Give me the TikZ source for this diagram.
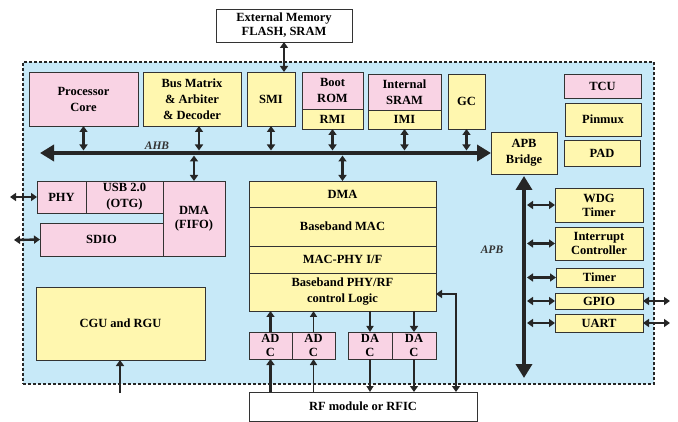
\documentclass[tikz,border=0pt]{standalone}
\usepackage{fontspec}
\setmainfont{Liberation Serif}
\usepackage{xcolor}
\usetikzlibrary{positioning, arrows.meta}

\definecolor{chipblue}{RGB}{199,233,248}
\definecolor{blkpink}{RGB}{249,211,228}
\definecolor{blkyellow}{RGB}{255,247,175}

\begin{document}
\begin{tikzpicture}[
      x=1pt, y=-1pt,
      box/.style={draw=black!80, line width=0.8pt, align=center, inner sep=0pt, outer sep=0pt,
        anchor=north west, font=\fontsize{12.5}{16}\selectfont\bfseries},
      tight/.style={font=\fontsize{12.5}{14}\selectfont\bfseries},
      pbox/.style={box, fill=blkpink},
      ybox/.style={box, fill=blkyellow},
      wbox/.style={box, fill=white},
      sz/.style 2 args={minimum width=#1pt, minimum height=#2pt},
      biarr/.style={{Triangle[length=6pt,width=8pt]}-{Triangle[length=6pt,width=8pt]}, line width=2.4pt, black!85},
      arr/.style={-{Triangle[length=6pt,width=8pt]}, line width=2.4pt, black!85},
      thinarr/.style={-{Triangle[length=6pt,width=7pt]}, line width=1.5pt, black!85},
      bus/.style={{Triangle[length=14pt,width=16pt]}-{Triangle[length=14pt,width=16pt]}, line width=4.5pt, black!85},
      buslbl/.style={font=\fontsize{11.5}{13}\selectfont\bfseries\itshape, black!80}
    ]
    \useasboundingbox (0,0) rectangle (678,422);

    % chip outline and external memory
    \node[wbox, tight, sz={136}{33}] (extmem) at (216,9) {External Memory\\FLASH, SRAM};
    \node[box, fill=chipblue, draw=black!85, line width=1.3pt, dash pattern=on 3pt off 2pt, sz={631}{322}] (chip) at (23,62) {};

    % top row on the AHB
    \node[pbox, sz={109}{54}] (core) at (29,72) {Processor\\Core};
    \node[ybox, sz={98}{54}] (busmx) at (143,72) {Bus Matrix\\\& Arbiter\\\& Decoder};
    \node[ybox, sz={48}{54}] (smi) at (247,72) {SMI};
    \node[pbox, sz={61}{37}] (boot) at (302,72) {Boot\\ROM};
    \node[ybox, sz={61}{20}, below=0pt of boot] (rmi) {RMI};
    \node[pbox, sz={73}{36}] (isram) at (368,74) {Internal\\SRAM};
    \node[ybox, sz={73}{19}, below=0pt of isram] (imi) {IMI};
    \node[ybox, sz={37}{55}] (gc) at (448,74) {GC};
    \node[pbox, sz={77}{24}] (tcu) at (564,74) {TCU};
    \node[ybox, sz={76}{33}] (pinmux) at (565,103) {Pinmux};
    \node[ybox, sz={76}{26}] (pad) at (564,140) {PAD};
    \node[ybox, sz={66}{42}] (apbb) at (491,132) {APB\\Bridge};

    % USB / SDIO side
    \node[pbox, sz={49}{32}] (phy) at (37,181) {PHY};
    \node[pbox, sz={77}{32}, right=0pt of phy] (usb) {USB 2.0\\(OTG)};
    \node[pbox, tight, sz={62}{75}] (fifo) at (163,181) {DMA\\(FIFO)};
    \node[pbox, sz={123}{33}] (sdio) at (40,223) {SDIO};
    \node[ybox, sz={169}{73}] (cgu) at (36,287) {CGU and RGU};

    % baseband stack
    \node[ybox, sz={187}{26}] (bbdma) at (249,181) {DMA};
    \node[ybox, sz={187}{39}, below=0pt of bbdma] (bbmac) {Baseband MAC};
    \node[ybox, sz={187}{27}, below=0pt of bbmac] (macphy) {MAC-PHY I/F};
    \node[ybox, sz={187}{38}, below=0pt of macphy] (bbphy) {Baseband PHY/RF\\control Logic};
    \node[pbox, tight, sz={43}{27}] (adc1) at (249,332) {AD\\C};
    \node[pbox, tight, sz={43}{27}, right=0pt of adc1] (adc2) {AD\\C};
    \node[pbox, tight, sz={44}{27}] (dac1) at (348,332) {DA\\C};
    \node[pbox, tight, sz={44}{27}, right=0pt of dac1] (dac2) {DA\\C};
    \node[wbox, sz={228}{29}] (rf) at (249,392) {RF module or RFIC};

    % APB peripherals
    \node[ybox, tight, sz={88}{34}] (wdg) at (555,188) {WDG\\Timer};
    \node[ybox, tight, sz={88}{33}] (intc) at (555,227) {Interrupt\\Controller};
    \node[ybox, sz={87}{19}] (timer) at (556,268) {Timer};
    \node[ybox, sz={88}{16}] (gpio) at (555,293) {GPIO};
    \node[ybox, sz={88}{18}] (uart) at (555,314) {UART};

    % AHB
    \coordinate (ahbL) at (40,153);
    \coordinate (ahbT) at (40,150.5);
    \coordinate (ahbB) at (40,155.5);
    \coordinate (bmxs) at ([xshift=7pt]busmx.south);
    \draw[bus] (ahbL) -- (apbb.west);
    \node[buslbl] (ahb) at (157,146) {AHB};
    \draw[biarr] (extmem.south) -- (extmem.south |- smi.north);
    \draw[biarr] (core.south) -- (core.south |- ahbT);
    \draw[biarr] (bmxs) -- (bmxs |- ahbT);
    \draw[biarr] (smi.south) -- (smi.south |- ahbT);
    \draw[biarr] (rmi.south) -- (rmi.south |- ahbT);
    \draw[biarr] (imi.south) -- (imi.south |- ahbT);
    \draw[biarr] (gc.south) -- (gc.south |- ahbT);
    \draw[biarr] (fifo.north |- ahbB) -- (fifo.north);
    \draw[biarr] (bbdma.north |- ahbB) -- (bbdma.north);

    % pins and clocks
    \coordinate (usbpin) at (10,197);
    \coordinate (sdiopin) at (14,240);
    \coordinate (clkin) at (120,393);
    \draw[biarr] (usbpin) -- (phy.west);
    \draw[biarr] (sdiopin) -- (sdio.west);
    \draw[arr] (clkin) -- (clkin |- cgu.south);

    % RF paths
    \draw[arr] (adc1.north) -- (adc1.north |- bbphy.south);
    \draw[arr] (adc1.south |- rf.north) -- (adc1.south);
    \draw[thinarr] (adc2.north) -- (adc2.north |- bbphy.south);
    \draw[thinarr] (adc2.south |- rf.north) -- (adc2.south);
    \draw[thinarr] (dac1.north |- bbphy.south) -- (dac1.north);
    \draw[thinarr] (dac1.south) -- (dac1.south |- rf.north);
    \draw[arr] (dac2.north |- bbphy.south) -- (dac2.north);
    \draw[arr] (dac2.south) -- (dac2.south |- rf.north);
    \coordinate (rfret) at (456,294);
    \draw[biarr] (bbphy.east |- rfret) -| (rf.north -| rfret);

    % APB
    \coordinate (apbend) at (524,378);
    \coordinate (apbR) at (527,0);
    \coordinate (iopin) at (670,0);
    \draw[bus] ([yshift=-2pt]apbb.south) -- (apbend);
    \node[buslbl] (apb) at (492,250) {APB};
    \draw[biarr] (wdg.west -| apbR) -- (wdg.west);
    \draw[biarr] (intc.west -| apbR) -- (intc.west);
    \draw[biarr] (timer.west -| apbR) -- (timer.west);
    \draw[biarr] (gpio.west -| apbR) -- (gpio.west);
    \draw[biarr] (uart.west -| apbR) -- (uart.west);
    \draw[biarr] (gpio.east) -- (gpio.east -| iopin);
    \draw[biarr] (uart.east) -- (uart.east -| iopin);
  \end{tikzpicture}
\end{document}
